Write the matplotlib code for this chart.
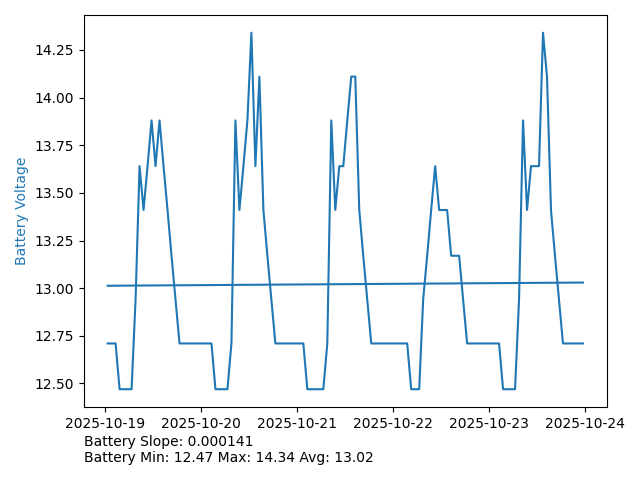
import numpy as np
import matplotlib
matplotlib.use("Agg")
import matplotlib.pyplot as plt
import pandas as pd

# hourly battery readings, first one at 2025-10-19 00:33
start_time = "2025-10-19 00:33"
voltage = [
    12.71, 12.71, 12.71, 12.47, 12.47, 12.47, 12.47, 12.94, 13.64, 13.41,
    13.64, 13.88, 13.64, 13.88, 13.64, 13.41, 13.17, 12.94, 12.71, 12.71,
    12.71, 12.71, 12.71, 12.71, 12.71, 12.71, 12.71, 12.47, 12.47, 12.47,
    12.47, 12.71, 13.88, 13.41, 13.64, 13.88, 14.34, 13.64, 14.11, 13.41,
    13.17, 12.94, 12.71, 12.71, 12.71, 12.71, 12.71, 12.71, 12.71, 12.71,
    12.47, 12.47, 12.47, 12.47, 12.47, 12.71, 13.88, 13.41, 13.64, 13.64,
    13.88, 14.11, 14.11, 13.41, 13.17, 12.94, 12.71, 12.71, 12.71, 12.71,
    12.71, 12.71, 12.71, 12.71, 12.71, 12.71, 12.47, 12.47, 12.47, 12.94,
    13.17, 13.41, 13.64, 13.41, 13.41, 13.41, 13.17, 13.17, 13.17, 12.94,
    12.71, 12.71, 12.71, 12.71, 12.71, 12.71, 12.71, 12.71, 12.71, 12.47,
    12.47, 12.47, 12.47, 12.94, 13.88, 13.41, 13.64, 13.64, 13.64, 14.34,
    14.11, 13.41, 13.17, 12.94, 12.71, 12.71, 12.71, 12.71, 12.71, 12.71,
]
slope_text = "Battery Slope: 0.000141"
stats_text = "Battery Min: 12.47 Max: 14.34 Avg: 13.02"

times = pd.date_range(start_time, periods=len(voltage), freq="h")
v = np.array(voltage)

# linear trend over the samples
idx = np.arange(len(v))
k, b = np.polyfit(idx, v, 1)
trend = k * idx + b

fig, ax = plt.subplots(figsize=(6.4, 4.8), dpi=100)
ax.plot(times, v, color="tab:blue")
ax.plot(times, trend, color="tab:blue")
ax.set_ylabel("Battery Voltage", color="tab:blue")

fig.subplots_adjust(left=0.131, right=0.948, top=0.969, bottom=0.152)
fig.text(0.131, 0.038, slope_text + "\n" + stats_text, fontsize=10)

plt.savefig("out.png")
